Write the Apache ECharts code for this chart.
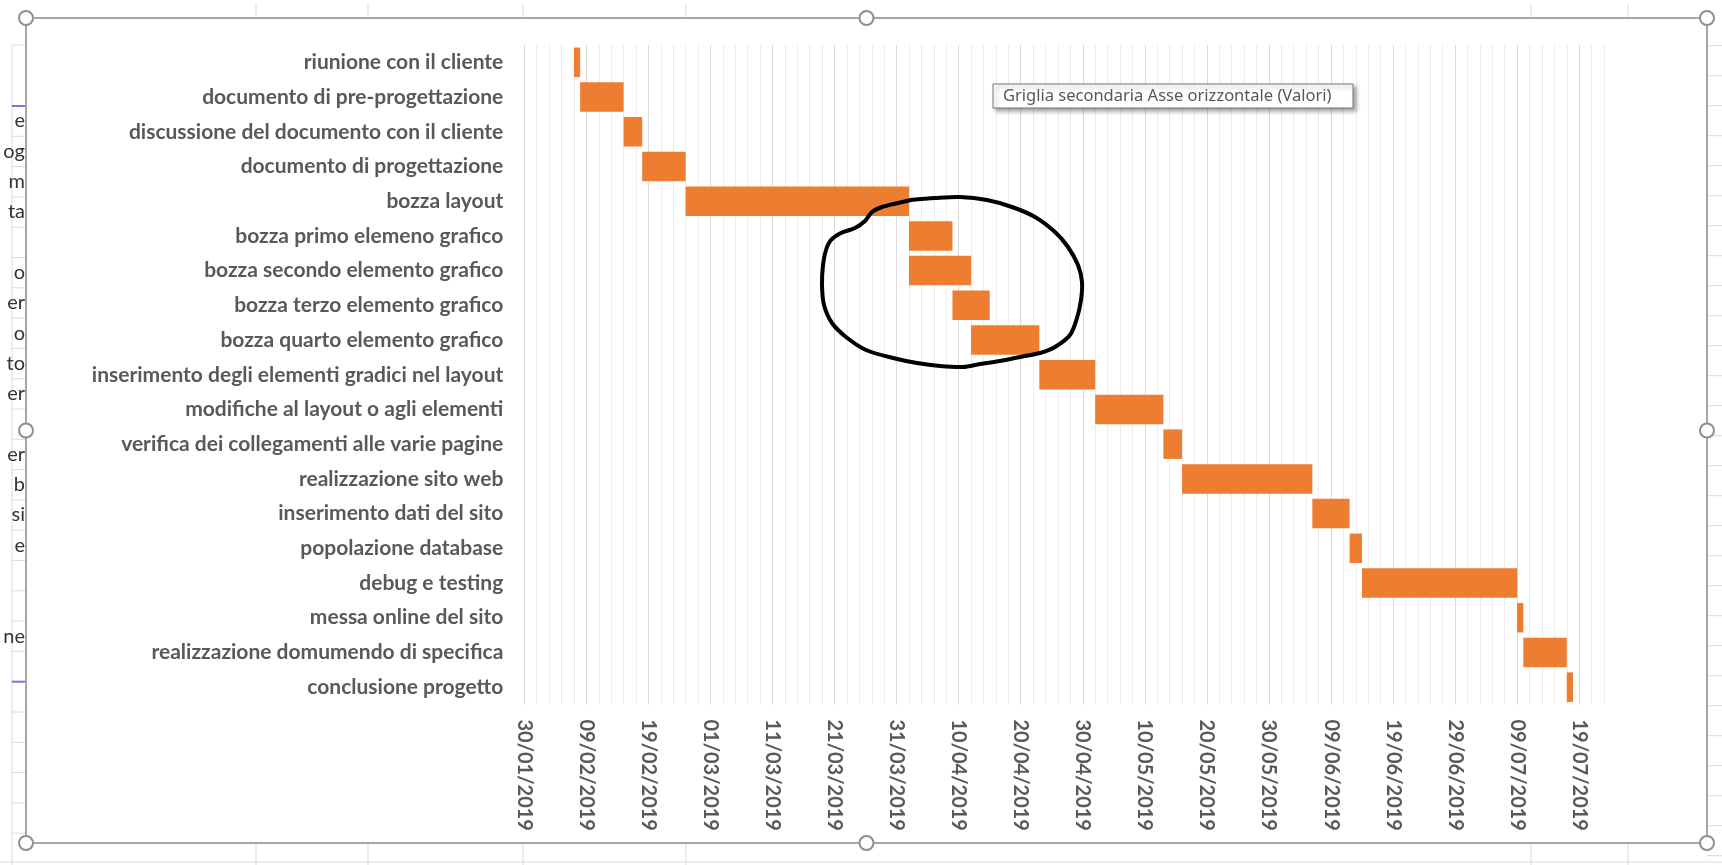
<!DOCTYPE html>
<html>
<head>
<meta charset="utf-8">
<script src="https://cdn.jsdelivr.net/npm/echarts@6/dist/echarts.min.js"></script>
<style>
html,body{margin:0;padding:0;background:#ffffff;}
#c{width:1722px;height:865px;}
</style>
</head>
<body>
<div id="c"></div>
<script>
// ---- data ----
const tasks = [
  'riunione con il cliente',
  'documento di pre-progettazione',
  'discussione del documento con il cliente',
  'documento di progettazione',
  'bozza layout',
  'bozza primo elemeno grafico',
  'bozza secondo elemento grafico',
  'bozza terzo elemento grafico',
  'bozza quarto elemento grafico',
  'inserimento degli elementi gradici nel layout',
  'modifiche al layout o agli elementi',
  'verifica dei collegamenti alle varie pagine',
  'realizzazione sito web',
  'inserimento dati del sito',
  'popolazione database',
  'debug e testing',
  'messa online del sito',
  'realizzazione domumendo di specifica',
  'conclusione progetto'
];
const startDates = [
  '07/02/2019', '08/02/2019', '15/02/2019', '18/02/2019', '25/02/2019',
  '02/04/2019', '02/04/2019', '09/04/2019', '12/04/2019', '23/04/2019',
  '02/05/2019', '13/05/2019', '16/05/2019', '06/06/2019', '12/06/2019',
  '14/06/2019', '09/07/2019', '10/07/2019', '17/07/2019'
];
const durations = [1, 7, 3, 7, 36, 7, 10, 6, 11, 9, 11, 3, 21, 6, 2, 25, 1, 7, 1];
const axisStartDate = '30/01/2019';
const axisEndDay = 174;
const majorStepDays = 10;
const minorStepDays = 2;
const tooltipText = 'Griglia secondaria Asse orizzontale (Valori)';
const sheetFragments = ['e','og','m','ta','','o','er','o','to','er','','er','b','si','e','','','ne',''];

// ---- helpers ----
const DAY = 86400000;
function parseDate(s){ const p = s.split('/').map(Number); return Date.UTC(p[2], p[1]-1, p[0]); }
const t0 = parseDate(axisStartDate);
const startOffsets = startDates.map(d => Math.round((parseDate(d) - t0) / DAY));
function pad(n){ return (n < 10 ? '0' : '') + n; }
function fmtDay(v){
  if (v % majorStepDays !== 0) return '';
  const d = new Date(t0 + v * DAY);
  return pad(d.getUTCDate()) + '/' + pad(d.getUTCMonth()+1) + '/' + d.getUTCFullYear();
}
const perMajor = majorStepDays / minorStepDays;
const gridColors = [];
for (let i = 0; i < perMajor; i++) gridColors.push(i === 0 ? '#d9d9d9' : '#ececec');

// ---- layout constants (pixels) ----
const G = {left: 524.3, top: 45, right: 1722 - 1604, bottom: 865 - 704.5};
const FR = {x1: 26, y1: 18, x2: 1707, y2: 843};

// ---- decorations ----
const graphics = [];
const sheetLine = '#dadada';
[256, 368, 523, 686, 1531, 1628].forEach(x => {
  graphics.push({type:'line', shape:{x1:x, y1:4, x2:x, y2:FR.y1}, style:{stroke:sheetLine, lineWidth:1}, z:1});
  graphics.push({type:'line', shape:{x1:x, y1:FR.y2, x2:x, y2:865}, style:{stroke:sheetLine, lineWidth:1}, z:1});
});
graphics.push({type:'line', shape:{x1:0, y1:862, x2:1722, y2:862}, style:{stroke:sheetLine, lineWidth:1}, z:1});
for (let y = 45.7; y < 865; y += 30) {
  graphics.push({type:'line', shape:{x1:FR.x2, y1:y, x2:1722, y2:y}, style:{stroke:sheetLine, lineWidth:1}, z:1});
}
graphics.push({type:'line', shape:{x1:12, y1:45, x2:12, y2:865}, style:{stroke:sheetLine, lineWidth:1}, z:1});
graphics.push({type:'line', shape:{x1:12, y1:45, x2:FR.x1, y2:45}, style:{stroke:sheetLine, lineWidth:1}, z:1});
for (let k = 0; k < 25; k++) {
  const y = 106 + 30.3 * k;
  const purple = (k === 0 || k === 19);
  graphics.push({type:'line', shape:{x1:12, y1:y, x2:FR.x1, y2:y}, style:{stroke: purple ? '#8e6bd0' : sheetLine, lineWidth: purple ? 2 : 1}, z:1});
  if (k < sheetFragments.length && sheetFragments[k]) {
    graphics.push({type:'text', x:FR.x1 - 1, y:y + 15, style:{text:sheetFragments[k], font:'20px "Liberation Sans Narrow", Lato, sans-serif', fill:'#333', align:'right', verticalAlign:'middle'}, z:1});
  }
}
graphics.push({type:'rect', shape:{x:FR.x1, y:FR.y1, width:FR.x2-FR.x1, height:FR.y2-FR.y1}, style:{fill:'none', stroke:'#a6a6a6', lineWidth:2}, z:50});
const mx = (FR.x1 + FR.x2) / 2, my = (FR.y1 + FR.y2) / 2;
[[FR.x1,FR.y1],[mx,FR.y1],[FR.x2,FR.y1],[FR.x1,my],[FR.x2,my],[FR.x1,FR.y2],[mx,FR.y2],[FR.x2,FR.y2]].forEach(p => {
  graphics.push({type:'circle', shape:{cx:p[0], cy:p[1], r:7}, style:{fill:'#ffffff', stroke:'#8f8f8f', lineWidth:2}, z:60});
});
graphics.push({type:'rect', shape:{x:993, y:84, width:360, height:24}, style:{fill:'#ffffff', stroke:'#767676', lineWidth:1, shadowBlur:4, shadowOffsetX:3, shadowOffsetY:3, shadowColor:'rgba(0,0,0,0.35)'}, z:70});
graphics.push({type:'text', x:1003, y:96, style:{text:tooltipText, font:'16.5px "Noto Sans", "Open Sans", sans-serif', fill:'#575757', verticalAlign:'middle'}, z:71});
const ring = [[910,200],[935,198],[960,197],[987,200],[1012,207],[1035,217],[1055,232],[1068,247],[1078,265],[1082,282],[1081,300],[1077,318],[1070,335],[1055,347],[1040,353],[1020,357],[1000,361],[980,364],[963,367],[940,366],[917,363],[893,358],[866,350],[846,337],[832,323],[824,305],[822,285],[823,265],[826,250],[831,240],[841,233],[855,228],[865,221],[872,212],[882,207],[898,203],[911,200]];
graphics.push({type:'polyline', shape:{points:ring, smooth:0.3}, style:{stroke:'#000000', lineWidth:4, fill:'none', lineJoin:'round', lineCap:'round'}, z:80});

const chart = echarts.init(document.getElementById('c'), null, {renderer:'canvas'});
chart.setOption({
  animation: false,
  backgroundColor: '#ffffff',
  grid: G,
  xAxis: {
    type: 'value',
    min: 0,
    max: axisEndDay,
    interval: minorStepDays,
    axisLine: {show:false},
    axisTick: {show:false},
    splitLine: {show:true, lineStyle:{color:gridColors, width:1}},
    axisLabel: {
      rotate: -90,
      margin: 15,
      formatter: fmtDay,
      fontFamily: 'Lato, "Liberation Sans", sans-serif',
      fontWeight: 'bold',
      fontSize: 20,
      color: '#595959'
    }
  },
  yAxis: {
    type: 'category',
    data: tasks,
    inverse: true,
    axisLine: {show:false},
    axisTick: {show:false},
    splitLine: {show:false},
    axisLabel: {
      margin: 21,
      fontFamily: 'Lato, "Liberation Sans", sans-serif',
      fontWeight: 'bold',
      fontSize: 21,
      color: '#595959'
    }
  },
  series: [
    {type:'bar', stack:'gantt', data:startOffsets, silent:true, itemStyle:{color:'rgba(0,0,0,0)'}, barCategoryGap:'15%'},
    {type:'bar', stack:'gantt', data:durations, itemStyle:{color:'#ED7D31'}, barCategoryGap:'15%'}
  ],
  graphic: graphics
});
</script>
</body>
</html>
